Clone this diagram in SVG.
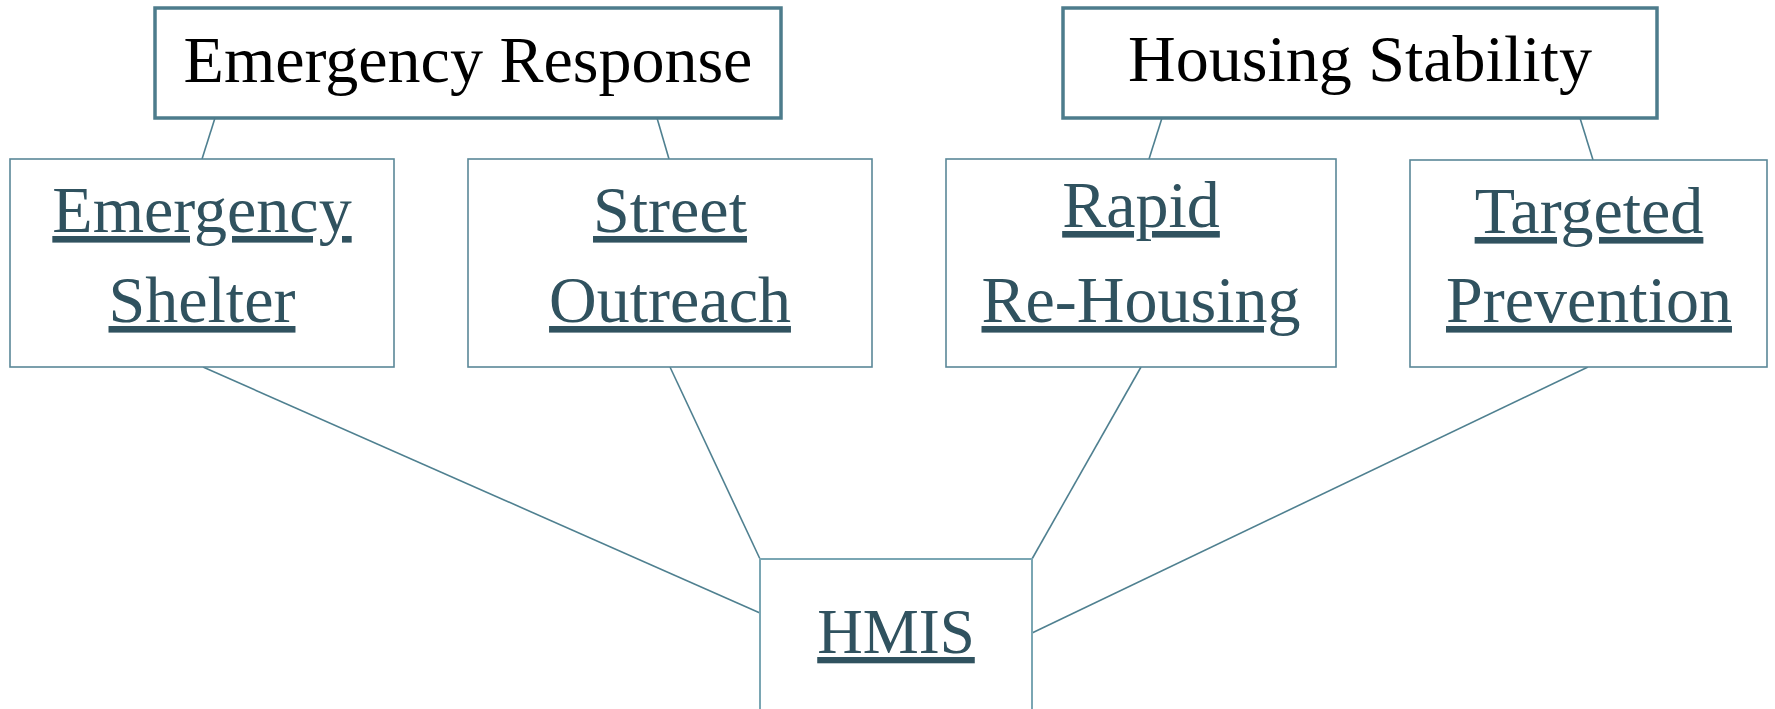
<svg xmlns="http://www.w3.org/2000/svg" width="1775" height="709" viewBox="0 0 1775 709">
<style>
.bg{fill:#ffffff}
.top rect{fill:#ffffff;stroke:#4d7c8c;stroke-width:3.5}
.child rect{fill:#ffffff;stroke:#5a8898;stroke-width:1.6}
.hub rect{fill:#ffffff;stroke:#7aa6b3;stroke-width:2}
.tt{font-family:"Liberation Serif","DejaVu Serif",serif;font-size:66px;fill:#000000;text-anchor:middle}
.ct{font-family:"Liberation Serif","DejaVu Serif",serif;font-size:66px;fill:#30525f;text-anchor:middle;text-decoration:underline}
.hub .ct{font-size:63px}
#connectors line{stroke:#4f8090;stroke-width:1.6;fill:none}
</style>
<rect class="bg" x="0" y="0" width="1775" height="709"/>
<g id="connectors">
<line x1="215" y1="118" x2="202" y2="159"/>
<line x1="657" y1="118" x2="669" y2="159"/>
<line x1="1162" y1="118" x2="1149" y2="159"/>
<line x1="1580" y1="118" x2="1593" y2="160"/>
<line x1="203" y1="367" x2="760" y2="613"/>
<line x1="670" y1="367" x2="760" y2="559"/>
<line x1="1141" y1="367" x2="1032" y2="559"/>
<line x1="1588" y1="367" x2="1032" y2="633"/>
</g>
<g id="emergency-response" class="top">
<rect x="155" y="8" width="626" height="110"/>
<text class="tt" x="468" y="82">Emergency Response</text>
</g>
<g id="housing-stability" class="top">
<rect x="1063" y="8" width="594" height="110"/>
<text class="tt" x="1360" y="81">Housing Stability</text>
</g>
<g id="emergency-shelter" class="child">
<rect x="10" y="159" width="384" height="208"/>
<text class="ct" x="202" y="232">Emergency</text>
<text class="ct" x="202" y="322">Shelter</text>
</g>
<g id="street-outreach" class="child">
<rect x="468" y="159" width="404" height="208"/>
<text class="ct" x="670" y="232">Street</text>
<text class="ct" x="670" y="322">Outreach</text>
</g>
<g id="rapid-rehousing" class="child">
<rect x="946" y="159" width="390" height="208"/>
<text class="ct" x="1141" y="227">Rapid</text>
<text class="ct" x="1141" y="322">Re-Housing</text>
</g>
<g id="targeted-prevention" class="child">
<rect x="1410" y="160" width="357" height="207"/>
<text class="ct" x="1589" y="233">Targeted</text>
<text class="ct" x="1589" y="322">Prevention</text>
</g>
<g id="hmis" class="hub">
<rect x="760" y="559" width="272" height="160"/>
<text class="ct" x="896" y="653">HMIS</text>
</g>
</svg>
